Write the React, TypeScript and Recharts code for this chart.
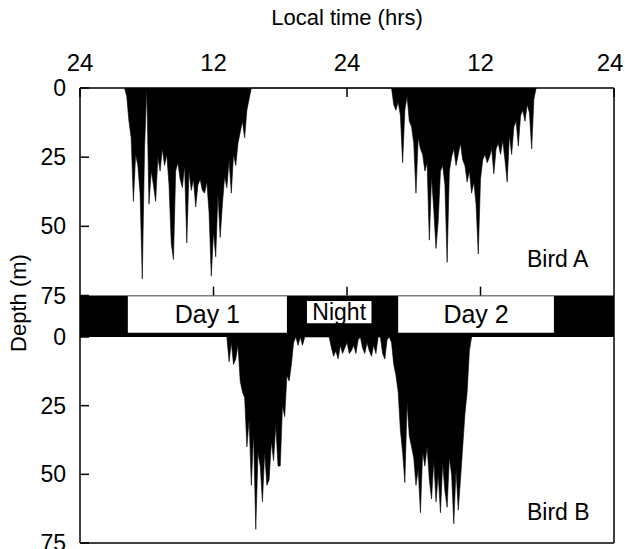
import {
    ComposedChart,
    Area,
    XAxis,
    YAxis,
    ReferenceArea,
    ReferenceLine,
} from "recharts";

// local time, hours since the first midnight
const HOUR_TICKS = [0, 12, 24, 36, 48];
const HOUR_LABELS = ["24", "12", "24", "12", "24"];
const DEPTH_TICKS = [0, 25, 50, 75];

// one depth sample (m) every STEP hours
const STEP = 0.2;

const birdADay1Start = 4.0;
const birdADay1 = [
    0, 3, 12, 18, 41, 24, 28, 38, 69, 22, 0, 42, 30, 35, 41, 25, 30, 22, 28, 24,
    35, 56, 62, 30, 27, 33, 36, 28, 56, 30, 37, 33, 43, 35, 33, 37, 38, 34, 45, 68,
    52, 61, 38, 54, 42, 32, 36, 26, 38, 24, 28, 20, 16, 12, 18, 8, 4, 0,
];

const birdADay2Start = 28.0;
const birdADay2 = [
    0, 6, 8, 5, 10, 27, 8, 3, 12, 14, 20, 38, 18, 22, 24, 30, 27, 55, 32, 44,
    58, 48, 30, 28, 35, 63, 30, 25, 22, 28, 24, 20, 26, 28, 34, 30, 38, 34, 42, 60,
    33, 26, 24, 27, 25, 22, 31, 22, 20, 24, 19, 26, 34, 17, 24, 14, 12, 21, 10, 8,
    12, 6, 9, 22, 4, 0,
];

const birdBDay1Start = 13.2;
const birdBDay1 = [
    0, 9, 2, 10, 8, 3, 16, 20, 22, 40, 30, 54, 35, 70, 42, 47, 60, 42, 54, 52,
    38, 45, 32, 47, 47, 25, 29, 14, 16, 10, 2, 0, 3, 0, 3, 0,
];

const birdBNightStart = 22.4;
const birdBNight = [
    0, 4, 7, 5, 8, 3, 6, 4, 2, 6, 5, 3, 6, 1, 0, 4, 6, 2, 5, 7, 3, 6, 0,
];

const birdBDay2Start = 27.0;
const birdBDay2 = [
    0, 6, 8, 1, 0, 2, 10, 14, 20, 34, 42, 53, 24, 36, 40, 44, 54, 48, 64, 42,
    47, 40, 52, 59, 45, 60, 50, 64, 46, 56, 62, 44, 50, 68, 48, 63, 52, 40, 28, 20,
    5, 0,
];

// light bar between the panels
const PERIOD_LABELS = ["Day 1", "Night", "Day 2"];
const PERIOD_FROM = [4.3, 20.4, 28.6];
const PERIOD_TO = [18.6, 26.2, 42.6];

const toPoints = (start: number, depths: number[]) =>
    depths.map((depth, i) => ({
        hour: Math.round((start + i * STEP) * 100) / 100,
        depth,
    }));

const birdAData = [
    ...toPoints(birdADay1Start, birdADay1),
    ...toPoints(birdADay2Start, birdADay2),
];

const birdBData = [
    ...toPoints(birdBDay1Start, birdBDay1),
    ...toPoints(birdBNightStart, birdBNight),
    ...toPoints(birdBDay2Start, birdBDay2),
];

const FONT = "'Liberation Sans', Arial, Helvetica, sans-serif";
const INK = "#000";
const LINE = { stroke: INK, strokeWidth: 1.5 };

// top time labels; the last one is nudged so it stays on the page
const HourTick = (props: any) => {
    const { x, y, payload } = props;
    const idx = HOUR_TICKS.indexOf(payload.value);
    const shift = idx === HOUR_TICKS.length - 1 ? -4 : 0;
    return (
        <text
            x={x + shift}
            y={y}
            textAnchor="middle"
            fill={INK}
            fontSize={24}
            fontFamily={FONT}
        >
            {HOUR_LABELS[idx] ?? ""}
        </text>
    );
};

const App = () => {
    return (
        <div
            style={{
                position: "absolute",
                left: 0,
                top: 0,
                width: 625,
                height: 549,
                background: "#fff",
                fontFamily: FONT,
                color: INK,
            }}
        >
            {/* Bird A, plus the day / night bar */}
            <div style={{ position: "absolute", left: 0, top: 0 }}>
                <ComposedChart
                    width={625}
                    height={337}
                    data={birdAData}
                    margin={{ top: 0, right: 11, bottom: 0, left: 0 }}
                >
                    <XAxis
                        dataKey="hour"
                        type="number"
                        orientation="top"
                        domain={[0, 48]}
                        ticks={HOUR_TICKS}
                        interval={0}
                        height={88}
                        tickSize={-9}
                        tickMargin={26}
                        tick={<HourTick />}
                        axisLine={LINE}
                        tickLine={LINE}
                        label={{
                            value: "Local time (hrs)",
                            position: "insideTop",
                            offset: 9,
                            fill: INK,
                            fontSize: 22,
                            fontFamily: FONT,
                        }}
                    />
                    <YAxis
                        type="number"
                        domain={[0, 90]}
                        reversed
                        ticks={DEPTH_TICKS}
                        interval={0}
                        width={80}
                        tickSize={-9}
                        tickMargin={23}
                        tick={{ fill: INK, fontSize: 23, fontFamily: FONT }}
                        axisLine={LINE}
                        tickLine={LINE}
                    />
                    <Area
                        dataKey="depth"
                        type="linear"
                        baseValue={0}
                        stroke={INK}
                        strokeWidth={0.6}
                        fill={INK}
                        fillOpacity={1}
                        dot={false}
                        activeDot={false}
                        isAnimationActive={false}
                    />
                    <ReferenceArea
                        x1={0}
                        x2={48}
                        y1={75}
                        y2={90}
                        fill={INK}
                        fillOpacity={1}
                        stroke="none"
                    />
                    {PERIOD_LABELS.map((name, i) => (
                        <ReferenceArea
                            key={name}
                            x1={PERIOD_FROM[i]}
                            x2={PERIOD_TO[i]}
                            y1={name === "Night" ? 77 : 75.3}
                            y2={name === "Night" ? 85 : 88.5}
                            fill="#fff"
                            fillOpacity={1}
                            stroke="none"
                            label={{
                                value: name,
                                position: "center",
                                fill: INK,
                                fontSize: name === "Night" ? 23 : 25,
                                fontFamily: FONT,
                            }}
                        />
                    ))}
                    {HOUR_TICKS.slice(1, 4).map((h) => (
                        <ReferenceLine
                            key={h}
                            segment={[
                                { x: h, y: 75 },
                                { x: h, y: 71.8 },
                            ]}
                            {...LINE}
                        />
                    ))}
                    <ReferenceLine x={48} {...LINE} />
                </ComposedChart>
            </div>

            {/* Bird B */}
            <div style={{ position: "absolute", left: 0, top: 300 }}>
                <ComposedChart
                    width={625}
                    height={249}
                    data={birdBData}
                    margin={{ top: 0, right: 11, bottom: 0, left: 0 }}
                >
                    <XAxis
                        xAxisId="top"
                        dataKey="hour"
                        type="number"
                        orientation="top"
                        domain={[0, 48]}
                        ticks={HOUR_TICKS}
                        interval={0}
                        height={37}
                        tickSize={-9}
                        tick={false}
                        axisLine={false}
                        tickLine={LINE}
                    />
                    <XAxis
                        xAxisId="bottom"
                        dataKey="hour"
                        type="number"
                        domain={[0, 48]}
                        ticks={HOUR_TICKS}
                        interval={0}
                        height={6}
                        tickSize={-9}
                        tick={false}
                        axisLine={LINE}
                        tickLine={LINE}
                    />
                    <YAxis
                        type="number"
                        domain={[0, 75]}
                        reversed
                        ticks={DEPTH_TICKS}
                        interval={0}
                        width={80}
                        tickSize={-9}
                        tickMargin={23}
                        tick={{ fill: INK, fontSize: 23, fontFamily: FONT }}
                        axisLine={LINE}
                        tickLine={LINE}
                    />
                    <Area
                        xAxisId="bottom"
                        dataKey="depth"
                        type="linear"
                        baseValue={0}
                        stroke={INK}
                        strokeWidth={0.6}
                        fill={INK}
                        fillOpacity={1}
                        dot={false}
                        activeDot={false}
                        isAnimationActive={false}
                    />
                    <ReferenceLine xAxisId="bottom" x={48} {...LINE} />
                </ComposedChart>
            </div>

            <div
                style={{
                    position: "absolute",
                    left: 527,
                    top: 248,
                    fontSize: 23,
                    lineHeight: 1,
                }}
            >
                Bird A
            </div>
            <div
                style={{
                    position: "absolute",
                    left: 527,
                    top: 501,
                    fontSize: 23,
                    lineHeight: 1,
                }}
            >
                Bird B
            </div>
            <div
                style={{
                    position: "absolute",
                    left: 19,
                    top: 303,
                    fontSize: 22,
                    lineHeight: 1,
                    whiteSpace: "nowrap",
                    transform: "translate(-50%, -50%) rotate(-90deg)",
                }}
            >
                Depth (m)
            </div>
        </div>
    );
};

export default App;
